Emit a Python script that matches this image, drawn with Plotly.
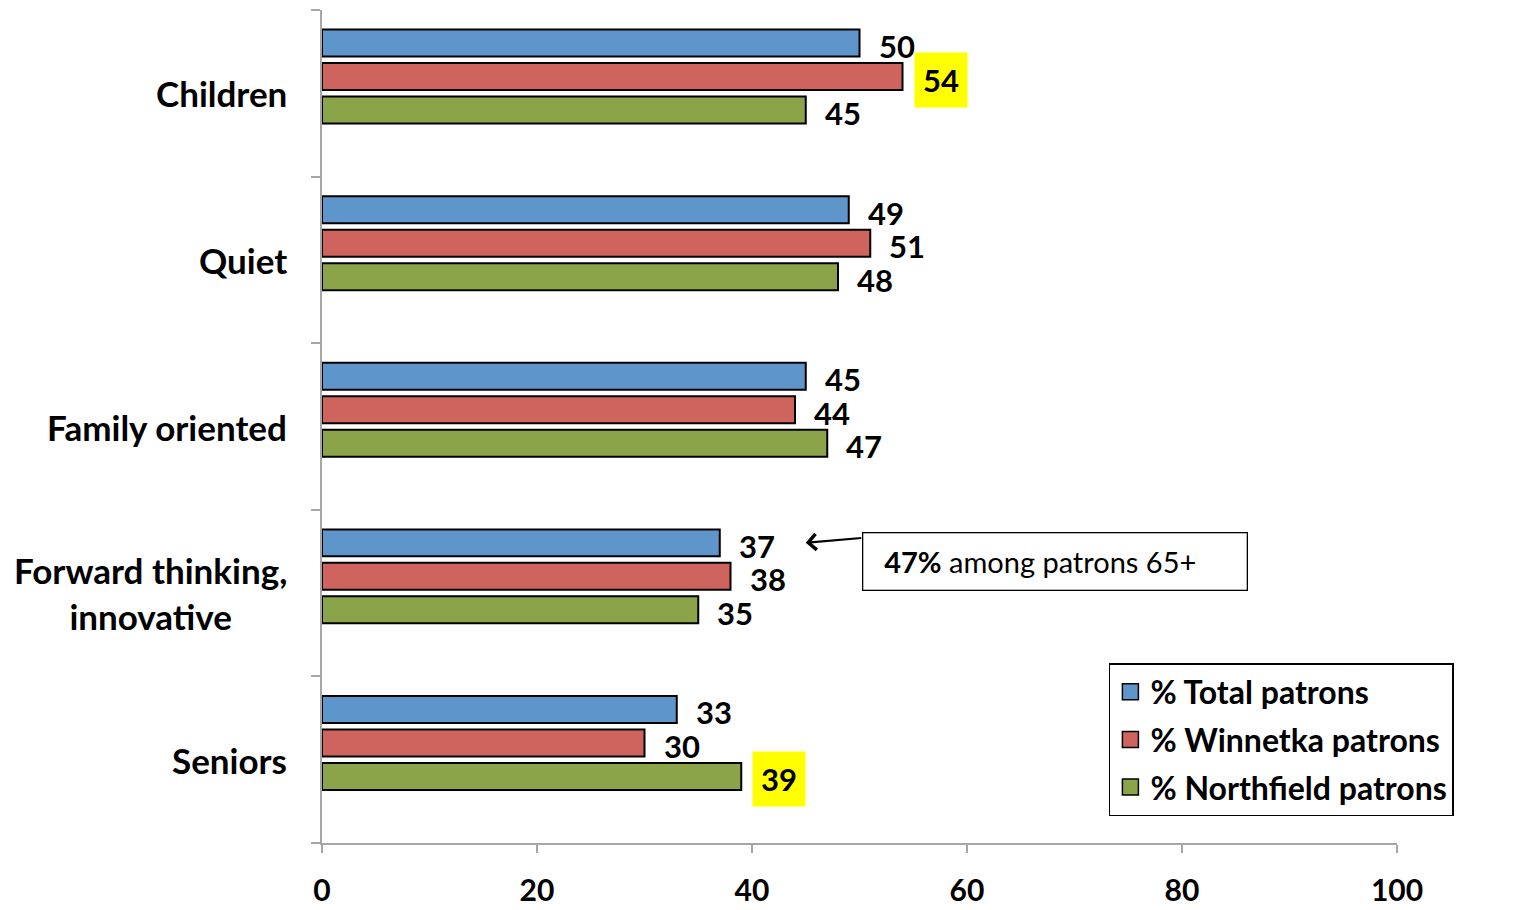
import numpy as np
import plotly.graph_objects as go

# Survey data: share of patrons describing the library with each term
categories = ["Children", "Quiet", "Family oriented", "Forward thinking,<br>innovative", "Seniors"]
series_names = ["% Total patrons", "% Winnetka patrons", "% Northfield patrons"]
total_vals = [50, 49, 45, 37, 33]
winnetka_vals = [54, 51, 44, 38, 30]
northfield_vals = [45, 48, 47, 35, 39]
x_ticks = [0, 20, 40, 60, 80, 100]

# labels drawn on a yellow highlight: (series index, category index)
highlighted = {(1, 0), (2, 4)}

colors = ["#5E96CC", "#CF645E", "#8BA44A"]
series_vals = [total_vals, winnetka_vals, northfield_vals]

FONT = "Lato, 'Open Sans', sans-serif"
slot = 0.201          # spacing between bars in a group (category units)
bar_w = 0.162         # bar thickness (category units)
cat_idx = np.arange(len(categories))

fig = go.Figure()
annotations = []

for i, (name, vals, col) in enumerate(zip(series_names, series_vals, colors)):
    pos = cat_idx + (i - 1.5) * slot
    fig.add_trace(go.Bar(
        x=vals, y=pos, orientation="h", width=bar_w,
        marker=dict(color=col, line=dict(color="black", width=2)),
        name=name, showlegend=False, hoverinfo="x+name",
    ))
    # legend entry with a larger swatch
    fig.add_trace(go.Scatter(
        x=[None], y=[None], mode="markers", name=f"<b>{name}</b>",
        legendgroup=f"g{i}",
        marker=dict(symbol="square", size=20, color=col,
                    line=dict(color="black", width=1.5)),
    ))
    for j, v in enumerate(vals):
        hl = (i, j) in highlighted
        annotations.append(dict(
            x=v, y=pos[j], xref="x", yref="y",
            text=f"<b>{v}</b>", showarrow=False,
            xanchor="left", yanchor="middle",
            xshift=11 if hl else 17, yshift=-3,
            font=dict(family=FONT, size=31, color="black"),
            bgcolor="#FFFF00" if hl else "rgba(0,0,0,0)",
            borderpad=8 if hl else 1,
        ))

# category labels, centred on each band
for j, c in enumerate(categories):
    annotations.append(dict(
        x=0, y=j, xref="paper", yref="y", text=f"<b>{c}</b>",
        showarrow=False, xanchor="right", yanchor="middle", align="center",
        xshift=-33, font=dict(family=FONT, size=35, color="black"),
    ))

# callout for the "Forward thinking" total bar
fw = categories.index("Forward thinking,<br>innovative")
fw_row = fw - 1.5 * slot
annotations.append(dict(
    x=45, y=fw_row, xref="x", yref="y", text="",
    showarrow=True, ax=57, ay=-5, arrowhead=4, arrowsize=1.4,
    arrowwidth=2.2, arrowcolor="black",
))
annotations.append(dict(
    x=50.2, y=fw_row, xref="x", yref="y",
    text="&nbsp;&nbsp;<b>47%</b> among patrons 65+",
    showarrow=False, xanchor="left", yanchor="middle", yshift=-19,
    align="left", width=371, height=44, borderpad=6,
    bordercolor="black", borderwidth=1.3, bgcolor="white",
    font=dict(family=FONT, size=29, color="black"),
))

fig.update_layout(
    width=1516, height=910,
    margin=dict(l=322, r=119, t=10, b=67, autoexpand=False),
    plot_bgcolor="white", paper_bgcolor="white",
    font=dict(family=FONT, color="black"),
    annotations=annotations,
    legend=dict(
        x=0.732, y=0.216, xanchor="left", yanchor="top",
        bordercolor="black", borderwidth=1.5, bgcolor="white",
        font=dict(family=FONT, size=32, color="black"),
        itemsizing="trace", tracegroupgap=3,
    ),
    xaxis=dict(
        range=[0, 100], tickvals=x_ticks, ticktext=[f"<b>{t}</b>" for t in x_ticks],
        showgrid=False, zeroline=False, showline=True, automargin=False,
        linecolor="#A6A6A6", linewidth=2,
        ticks="outside", ticklen=8, tickwidth=2, tickcolor="#A6A6A6",
        tickfont=dict(family=FONT, size=30, color="black"),
        ticklabelstandoff=12,
    ),
    yaxis=dict(
        range=[len(categories) - 0.5, -0.5], automargin=False,
        showgrid=False, zeroline=False, showline=True,
        linecolor="#A6A6A6", linewidth=2,
        showticklabels=False, ticks="",
        minor=dict(tickvals=list(np.arange(-0.5, len(categories), 1.0)),
                   ticks="outside", ticklen=9, tickwidth=2, tickcolor="#A6A6A6",
                   showgrid=False),
    ),
)

fig.write_html("out.html")
